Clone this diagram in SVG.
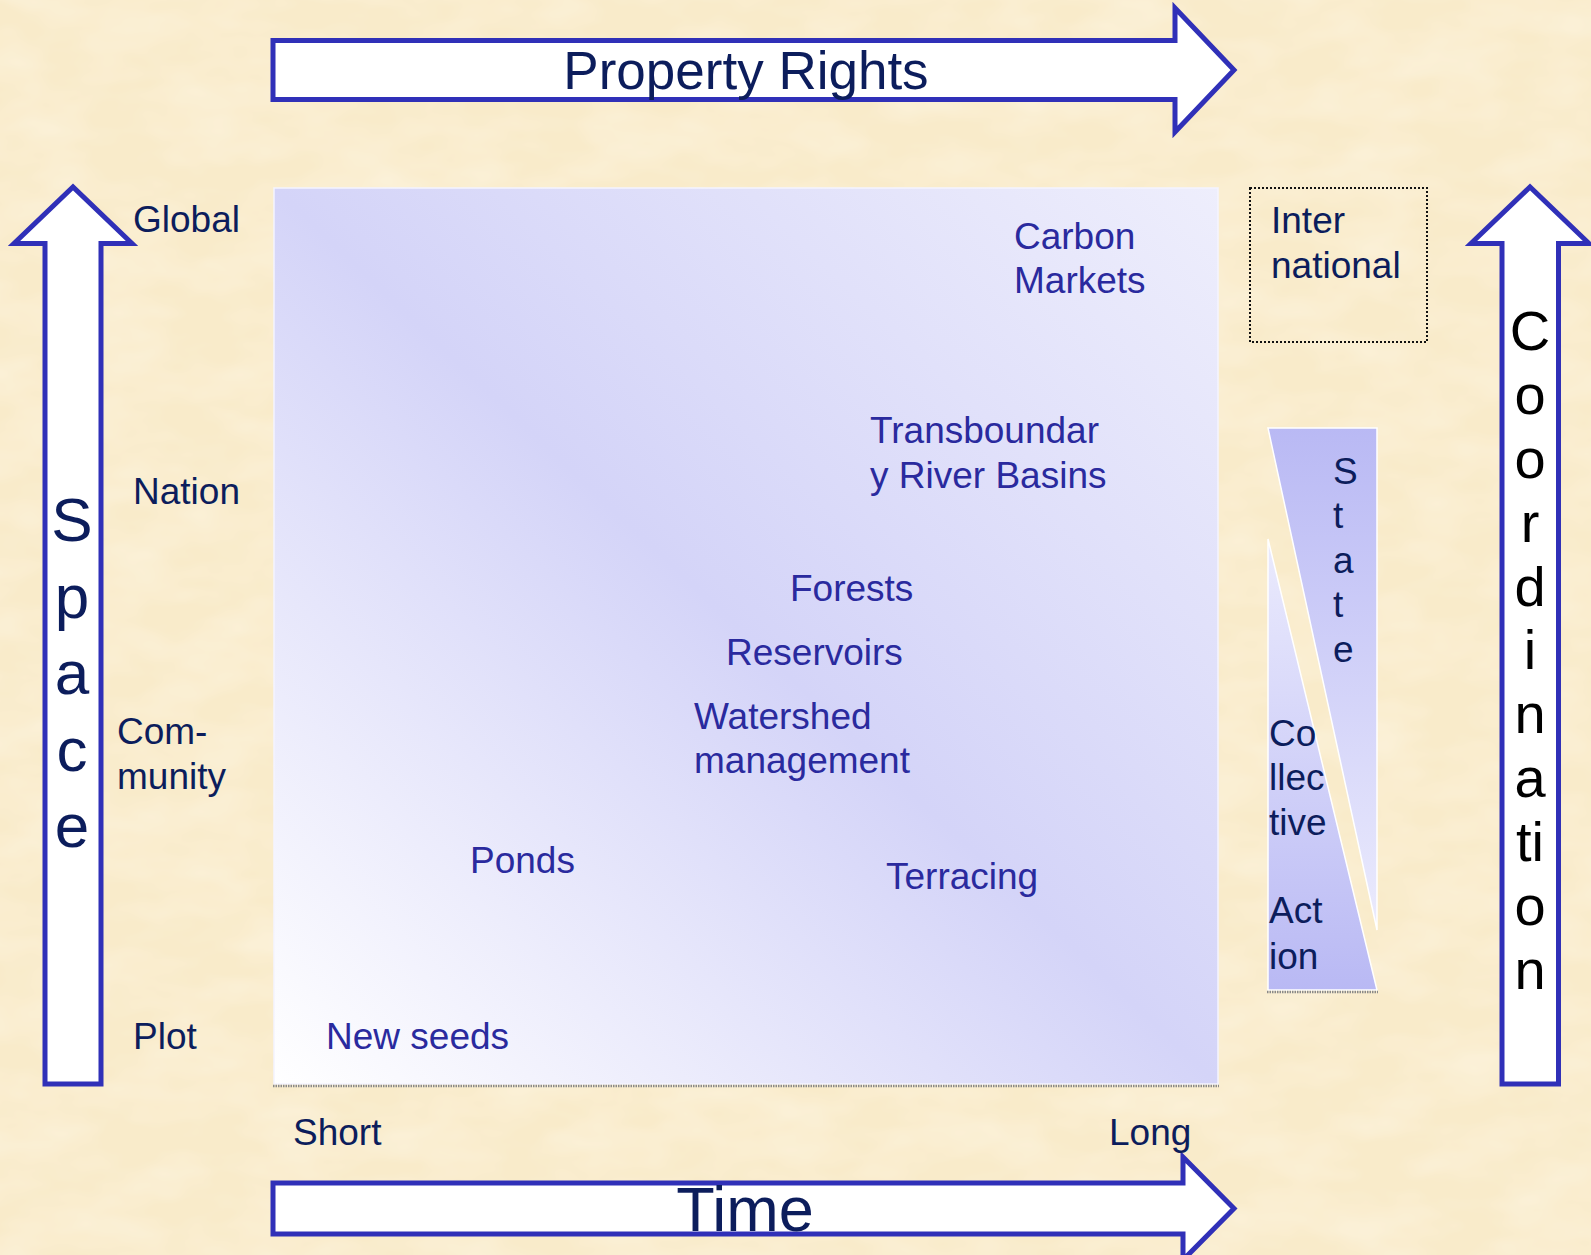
<svg xmlns="http://www.w3.org/2000/svg" width="1591" height="1255" viewBox="0 0 1591 1255">
<style>
.arrow{fill:#ffffff;stroke:#3030b8;stroke-width:5;stroke-linejoin:miter}
.lbl{font-family:"Liberation Sans",Arial,sans-serif;font-size:37px;fill:#0c1d5c}
.inner{font-family:"Liberation Sans",Arial,sans-serif;font-size:37px;fill:#2a2a9e}
.big{font-family:"Liberation Sans",Arial,sans-serif;fill:#0c1d5c;text-anchor:middle}
.coord{font-family:"Liberation Sans",Arial,sans-serif;font-size:56px;fill:#000000;text-anchor:middle}
</style>
<defs>
<filter id="tex" x="0" y="0" width="100%" height="100%">
<feTurbulence type="fractalNoise" baseFrequency="0.012 0.025" numOctaves="3" seed="7"/>
<feColorMatrix type="matrix" values="0 0 0 0 1  0 0 0 0 0.975  0 0 0 0 0.9  0 0 0 0.6 -0.2"/>
</filter>
<linearGradient id="sq" x1="0" y1="1" x2="1" y2="0">
<stop offset="0" stop-color="#ffffff"/>
<stop offset="0.5" stop-color="#d4d4f8"/>
<stop offset="1" stop-color="#eeeefc"/>
</linearGradient>
<linearGradient id="stateG" x1="0" y1="0" x2="0" y2="1">
<stop offset="0" stop-color="#b9b9f4"/>
<stop offset="1" stop-color="#ebebfd"/>
</linearGradient>
<linearGradient id="collG" x1="0" y1="0" x2="0" y2="1">
<stop offset="0" stop-color="#ebebfd"/>
<stop offset="1" stop-color="#b9b9f4"/>
</linearGradient>
</defs>

<rect width="1591" height="1255" fill="#f9ebca"/>
<rect width="1591" height="1255" filter="url(#tex)"/>

<g id="connectors">
<g id="property-rights-arrow">
<path class="arrow" d="M273,40.5 H1175 V8 L1234,70 L1175,132 V99.5 H273 Z"/>
<text class="big" x="746" y="89" font-size="53">Property Rights</text>
</g>
<g id="time-arrow">
<path class="arrow" d="M273,1183 H1183 V1157 L1234,1208.5 L1183,1260 V1234 H273 Z"/>
<text class="big" x="745" y="1231" font-size="63">Time</text>
</g>
<g id="space-arrow">
<path class="arrow" d="M45,1084 V243.5 H14 L73,187 L132,243.5 H101 V1084 Z"/>
<text class="big" font-size="62" x="72" y="541">S</text>
<text class="big" font-size="62" x="72" y="617.5">p</text>
<text class="big" font-size="62" x="72" y="694">a</text>
<text class="big" font-size="62" x="72" y="770.5">c</text>
<text class="big" font-size="62" x="72" y="847">e</text>
</g>
<g id="coordination-arrow">
<path class="arrow" d="M1502,1084 V243.5 H1471 L1530,187 L1589,243.5 H1558.5 V1084 Z"/>
<text class="coord" x="1530" y="350">C</text>
<text class="coord" x="1530" y="414">o</text>
<text class="coord" x="1530" y="478">o</text>
<text class="coord" x="1530" y="542">r</text>
<text class="coord" x="1530" y="606">d</text>
<text class="coord" x="1530" y="669">i</text>
<text class="coord" x="1530" y="733">n</text>
<text class="coord" x="1530" y="797">a</text>
<text class="coord" x="1530" y="861">ti</text>
<text class="coord" x="1530" y="925">o</text>
<text class="coord" x="1530" y="989">n</text>
</g>
</g>

<g id="space-labels">
<text class="lbl" x="133" y="232">Global</text>
<text class="lbl" x="133" y="504">Nation</text>
<text class="lbl" x="117" y="744">Com-</text>
<text class="lbl" x="117" y="789">munity</text>
<text class="lbl" x="133" y="1049">Plot</text>
</g>

<g id="time-labels">
<text class="lbl" x="293" y="1145">Short</text>
<text class="lbl" x="1109" y="1145">Long</text>
</g>

<g id="matrix">
<rect x="274" y="188" width="944" height="896" fill="url(#sq)" stroke="#f4f4ff" stroke-width="1.5"/>
<line x1="273" y1="1086" x2="1219" y2="1086" stroke="#8a8a8a" stroke-width="2.5" stroke-dasharray="1.5 1"/>
</g>

<g id="carbon-markets"><text class="inner" x="1014" y="249">Carbon</text><text class="inner" x="1014" y="293">Markets</text></g>
<g id="transboundary"><text class="inner" x="870" y="443">Transboundar</text><text class="inner" x="870" y="488">y River Basins</text></g>
<g id="forests"><text class="inner" x="790" y="601">Forests</text></g>
<g id="reservoirs"><text class="inner" x="726" y="665">Reservoirs</text></g>
<g id="watershed"><text class="inner" x="694" y="729">Watershed</text><text class="inner" x="694" y="773">management</text></g>
<g id="ponds"><text class="inner" x="470" y="873">Ponds</text></g>
<g id="terracing"><text class="inner" x="886" y="889">Terracing</text></g>
<g id="new-seeds"><text class="inner" x="326" y="1049">New seeds</text></g>

<g id="international">
<rect x="1250" y="188" width="177" height="154" fill="none" stroke="#111111" stroke-width="2" stroke-dasharray="2 2"/>
<text class="lbl" x="1271" y="233">Inter</text>
<text class="lbl" x="1271" y="278">national</text>
</g>

<g id="state">
<polygon points="1268,428 1377,428 1377,930" fill="url(#stateG)" stroke="#ffffff" stroke-width="1.5"/>
<text class="lbl" x="1333" y="484">S</text>
<text class="lbl" x="1333" y="528">t</text>
<text class="lbl" x="1333" y="573">a</text>
<text class="lbl" x="1333" y="617">t</text>
<text class="lbl" x="1333" y="662">e</text>
</g>

<g id="collective-action">
<polygon points="1268,539 1268,990 1377,990" fill="url(#collG)" stroke="#ffffff" stroke-width="1.5"/>
<line x1="1267" y1="992" x2="1378" y2="992" stroke="#8a8a8a" stroke-width="2.5" stroke-dasharray="1.5 1"/>
<text class="lbl" x="1269" y="746">Co</text>
<text class="lbl" x="1269" y="790">llec</text>
<text class="lbl" x="1269" y="835">tive</text>
<text class="lbl" x="1269" y="923">Act</text>
<text class="lbl" x="1269" y="969">ion</text>
</g>
</svg>
